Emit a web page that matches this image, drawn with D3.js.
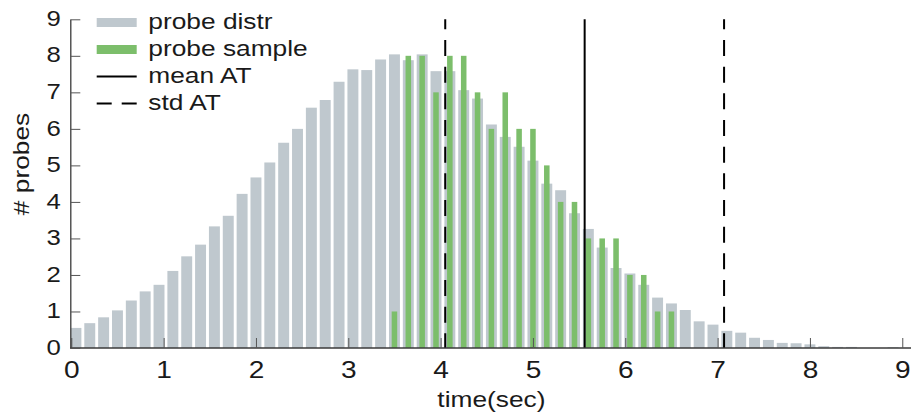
<!DOCTYPE html>
<html><head><meta charset="utf-8">
<script src="https://cdn.jsdelivr.net/npm/d3@7"></script>
<style>
body{margin:0;background:#fff;}
svg{display:block;}
text{font-family:"Liberation Sans",Arial,Helvetica,sans-serif;fill:#1a1a1a;}
</style>
</head><body><svg id="c" width="911" height="416"></svg>
<script>
// ---- data ----
const binCenters = [0.05,0.20,0.35,0.50,0.65,0.80,0.95,1.10,1.25,1.40,1.55,1.70,1.85,2.00,2.15,2.30,2.45,2.60,2.75,2.90,
  3.05,3.20,3.35,3.50,3.65,3.80,3.95,4.10,4.25,4.40,4.55,4.70,4.85,5.00,5.15,5.30,5.45,5.60,5.75,5.90,
  6.05,6.20,6.35,6.50,6.65,6.80,6.95,7.10,7.25,7.40,7.55,7.70,7.85,8.00,8.15,8.30,8.45,8.60,8.75,8.90];
const distrCounts = [0.55,0.68,0.84,1.03,1.30,1.55,1.73,2.11,2.51,2.83,3.33,3.62,4.22,4.67,5.08,5.62,6.00,6.58,6.79,7.29,
  7.63,7.61,7.90,8.04,7.88,8.04,7.58,7.58,7.06,6.83,6.12,5.78,5.51,5.13,4.50,4.32,3.69,3.26,2.75,2.19,
  2.04,1.73,1.38,1.22,1.04,0.73,0.64,0.47,0.42,0.28,0.22,0.14,0.13,0.10,0.05,0.03,0.03,0,0,0.02];
const sampleCenters = [3.50,3.65,3.80,3.95,4.10,4.25,4.40,4.55,4.70,4.85,5.00,5.15,5.30,5.45,5.60,5.75,5.90,6.05,6.20,6.35,6.50];
const sampleCounts  = [1,8,8,7,8,8,7,6,7,6,6,5,4,4,3,3,3,2,2,1,1];
const meanAT = 5.56;
const stdAT = 1.51;
const xTicks = [0,1,2,3,4,5,6,7,8,9];
const yTicks = [0,1,2,3,4,5,6,7,8,9];
const legendLabels = ["probe distr","probe sample","mean AT","std AT"];
const binWidth = 0.15;

// ---- drawing ----
const SX = 1.17; // horizontal glyph stretch of the reference font
const svg = d3.select("#c");
const x = d3.scaleLinear().domain([0, 9.1]).range([71.3, 911.5]);
const y = d3.scaleLinear().domain([0, 9]).range([348, 19.3]);

svg.append("clipPath").attr("id","plot").append("rect")
  .attr("x", 70.5).attr("y", 0).attr("width", 850).attr("height", 348);

const gBars = svg.append("g").attr("clip-path","url(#plot)");
const greyW = x(binWidth*0.79) - x(0);
const greenW = x(binWidth*0.40) - x(0);

gBars.selectAll("rect.d").data(binCenters.map((c,i)=>({c, v:distrCounts[i]})))
  .enter().append("rect").attr("class","d")
  .attr("x", d => x(d.c) - greyW/2).attr("width", greyW)
  .attr("y", d => y(d.v)).attr("height", d => y(0) - y(d.v))
  .attr("fill", "#bfc8ce");

gBars.selectAll("rect.s").data(sampleCenters.map((c,i)=>({c, v:sampleCounts[i]})))
  .enter().append("rect").attr("class","s")
  .attr("x", d => x(d.c) - greenW/2).attr("width", greenW)
  .attr("y", d => y(d.v)).attr("height", d => y(0) - y(d.v))
  .attr("fill", "#7cbe6b");

// vertical lines
svg.append("line").attr("x1", x(meanAT)).attr("x2", x(meanAT))
  .attr("y1", y(9)).attr("y2", y(0)).attr("stroke","#000").attr("stroke-width",2);
[meanAT - stdAT, meanAT + stdAT].forEach(v => {
  svg.append("line").attr("x1", x(v)).attr("x2", x(v))
    .attr("y1", y(9)).attr("y2", y(0)).attr("stroke","#000").attr("stroke-width",2)
    .attr("stroke-dasharray","16 10.67").attr("stroke-dashoffset",6);
});

// axes
const xAxis = d3.axisBottom(x).tickValues(xTicks).tickSizeInner(-10).tickSizeOuter(0).tickPadding(12.5).tickFormat(d3.format("d"));
const gx = svg.append("g").attr("transform", `translate(0,${y(0)})`).call(xAxis);
gx.select(".domain").attr("stroke","#3a3a3a").attr("stroke-width",1.3).attr("d", `M${x(0)-1},0H${x(9.1)}`);
gx.selectAll(".tick line").attr("stroke","#555");
gx.selectAll(".tick text").attr("font-size", 24).attr("fill","#1a1a1a")
  .attr("font-family", '"Liberation Sans",Arial,sans-serif')
  .attr("transform", `scale(${SX},1)`);

const yAxis = d3.axisLeft(y).tickValues(yTicks).tickSizeInner(-10).tickSizeOuter(0).tickPadding(0).tickFormat(d3.format("d"));
const gy = svg.append("g").attr("transform", `translate(${x(0)-1},0)`).call(yAxis);
gy.select(".domain").attr("stroke","#3a3a3a").attr("stroke-width",1.3);
gy.selectAll(".tick line").attr("stroke","#555");
gy.selectAll(".tick text").attr("font-size", 22).attr("fill","#1a1a1a")
  .attr("font-family", '"Liberation Sans",Arial,sans-serif')
  .attr("x", -9.5/SX).attr("dy","0.28em")
  .attr("transform", `scale(${SX},1)`);

// axis labels
svg.append("text").text("time(sec)")
  .attr("transform", `translate(${(x(0)+x(9.1))/2},407) scale(${SX},1)`)
  .attr("text-anchor","middle").attr("font-size",22.5);
svg.append("text").text("# probes")
  .attr("transform", `translate(29,164) rotate(-90) scale(${SX},1)`)
  .attr("text-anchor","middle").attr("font-size",22.5);

// legend
const lg = svg.append("g");
const rowBase = [29, 56, 83, 110];
const swX = 96.7, swW = 40;
legendLabels.forEach((lab, i) => {
  const cy = rowBase[i] - 6.5;
  if (i === 0) lg.append("rect").attr("x",swX).attr("y",cy-4.5).attr("width",swW).attr("height",9).attr("fill","#bfc8ce");
  if (i === 1) lg.append("rect").attr("x",swX).attr("y",cy-4.5).attr("width",swW).attr("height",9).attr("fill","#7cbe6b");
  if (i === 2) lg.append("line").attr("x1",swX).attr("x2",swX+swW).attr("y1",cy).attr("y2",cy).attr("stroke","#000").attr("stroke-width",2);
  if (i === 3) lg.append("line").attr("x1",swX).attr("x2",swX+swW).attr("y1",cy).attr("y2",cy).attr("stroke","#000").attr("stroke-width",2).attr("stroke-dasharray","15 10");
  lg.append("text").text(lab)
    .attr("transform", `translate(148.3,${rowBase[i]}) scale(${SX},1)`)
    .attr("font-size",22.5);
});
</script>
</body></html>
